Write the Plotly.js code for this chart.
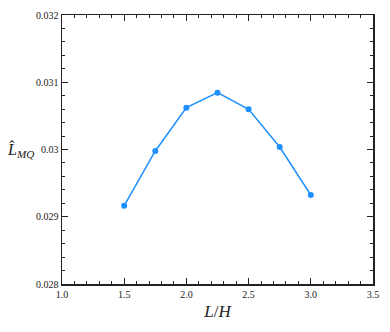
<!DOCTYPE html>
<html>
<head>
<meta charset="utf-8">
<script src="https://cdn.plot.ly/plotly-3.0.1.min.js"></script>
<style>html,body{margin:0;padding:0;background:#fff;}#chart{width:390px;height:332px;}</style>
</head>
<body>
<div id="chart"></div>
<script>
var ratioLH = [1.5, 1.75, 2.0, 2.25, 2.5, 2.75, 3.0];
var lmqHat = [0.029165, 0.029978, 0.030622, 0.030845, 0.030598, 0.030037, 0.029323];
var yTickVals = [0.028, 0.029, 0.030, 0.031, 0.032];
var yTickText = ["0.028", "0.029", "0.03", "0.031", "0.032"];
var xTickVals = [1.0, 1.5, 2.0, 2.5, 3.0, 3.5];
var xTickText = ["1.0", "1.5", "2.0", "2.5", "3.0", "3.5"];

var trace = {
  x: ratioLH, y: lmqHat, type: 'scatter', mode: 'lines+markers',
  line: {color: '#1e90ff', width: 1.5},
  marker: {color: '#1e90ff', size: 6},
  hoverinfo: 'none'
};
var axisCommon = {
  showgrid: false, zeroline: false, showline: true, linecolor: '#222', linewidth: 1.5,
  mirror: 'ticks', ticks: 'inside', ticklen: 6, tickwidth: 1, tickcolor: '#222',
  tickfont: {family: 'Liberation Serif, serif', size: 10, color: '#222'}
};
var layout = {
  width: 390, height: 332,
  margin: {l: 62, r: 17, t: 15, b: 48},
  paper_bgcolor: '#fff', plot_bgcolor: '#fff',
  showlegend: false,
  xaxis: Object.assign({}, axisCommon, {
    range: [1.0, 3.5], tickmode: 'array', tickvals: xTickVals, ticktext: xTickText,
    minor: {dtick: 0.1, ticks: 'inside', ticklen: 3, tickcolor: '#222', tickwidth: 1},
    title: {text: '<i>L</i>/<i>H</i>', font: {family: 'Liberation Serif, serif', size: 17, color: '#222'}, standoff: 6}
  }),
  yaxis: Object.assign({}, axisCommon, {
    range: [0.028, 0.032], tickmode: 'array', tickvals: yTickVals, ticktext: yTickText,
    minor: {dtick: 0.0002, tick0: 0.028, ticks: 'inside', ticklen: 3, tickcolor: '#222', tickwidth: 1}
  }),
  annotations: [{
    text: '<i>L̂</i><sub><i>MQ</i></sub>', xref: 'paper', yref: 'paper',
    x: -0.135, y: 0.5, xanchor: 'center', yanchor: 'middle', showarrow: false,
    font: {family: 'Liberation Serif, serif', size: 16, color: '#222'}
  }]
};
Plotly.newPlot('chart', [trace], layout, {staticPlot: true, displayModeBar: false});
</script>
</body>
</html>
